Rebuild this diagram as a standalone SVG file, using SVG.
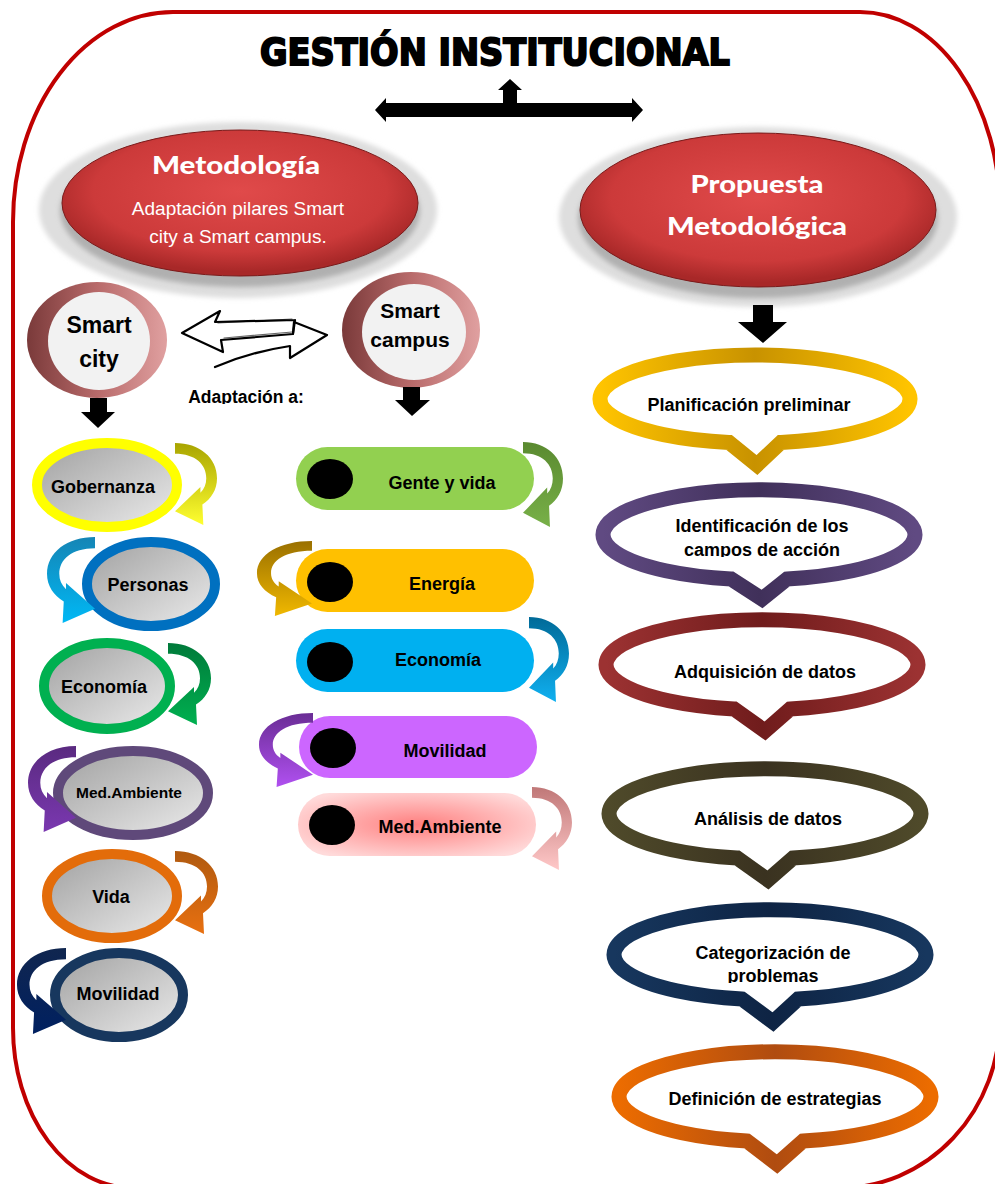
<svg xmlns="http://www.w3.org/2000/svg" xmlns:xlink="http://www.w3.org/1999/xlink" width="995" height="1184" viewBox="0 0 995 1184">
<style>
.lbl{font-family:"Liberation Sans",Arial,sans-serif;font-weight:bold;fill:#000;text-anchor:middle}
.wt{font-family:"Liberation Sans",Arial,sans-serif;fill:#fff;text-anchor:middle;font-size:19px}
.hv{font-family:Lato,"Open Sans",sans-serif;font-weight:900;fill:#fff;text-anchor:middle;font-size:25px}
.blk{fill:#000}
.bub{fill:#fff;stroke-width:15;stroke-linejoin:miter}
.pillDot{fill:#000}
.halo{fill:#dedede}
.shadow{fill:#b0b0b0}
</style>
<defs>
<path id="carrow" d="M0,0 C25,0 43,15 43,36 C43,48 37,57 28,63 L29,84 L0,70 L26,45 L26,51 C30,47 32,42 32,36 C32,22 21,11 0,11 Z"/>
<linearGradient id="g-yel" x1="0" y1="0" x2="0" y2="1"><stop offset="0" stop-color="#a8a400"/><stop offset="1" stop-color="#ffff30"/></linearGradient>
<linearGradient id="g-blu" x1="0" y1="0" x2="0" y2="1"><stop offset="0" stop-color="#1585b5"/><stop offset="1" stop-color="#00b8f5"/></linearGradient>
<linearGradient id="g-grn" x1="0" y1="0" x2="0" y2="1"><stop offset="0" stop-color="#007a3a"/><stop offset="1" stop-color="#00b050"/></linearGradient>
<linearGradient id="g-pur" x1="0" y1="0" x2="0" y2="1"><stop offset="0" stop-color="#5a2a80"/><stop offset="1" stop-color="#7a38b0"/></linearGradient>
<linearGradient id="g-org" x1="0" y1="0" x2="0" y2="1"><stop offset="0" stop-color="#b05a10"/><stop offset="1" stop-color="#e87010"/></linearGradient>
<linearGradient id="g-nav" x1="0" y1="0" x2="0" y2="1"><stop offset="0" stop-color="#10264f"/><stop offset="1" stop-color="#002060"/></linearGradient>
<linearGradient id="g-lgr" x1="0" y1="0" x2="0" y2="1"><stop offset="0" stop-color="#5a8a30"/><stop offset="1" stop-color="#78b048"/></linearGradient>
<linearGradient id="g-gold" x1="0" y1="0" x2="0" y2="1"><stop offset="0" stop-color="#9a7000"/><stop offset="1" stop-color="#f0b800"/></linearGradient>
<linearGradient id="g-cyan" x1="0" y1="0" x2="0" y2="1"><stop offset="0" stop-color="#006a98"/><stop offset="1" stop-color="#10b0f0"/></linearGradient>
<linearGradient id="g-vio" x1="0" y1="0" x2="0" y2="1"><stop offset="0" stop-color="#6a2d95"/><stop offset="1" stop-color="#b050f0"/></linearGradient>
<linearGradient id="g-pnk" x1="0" y1="0" x2="0" y2="1"><stop offset="0" stop-color="#c07878"/><stop offset="1" stop-color="#ffc8c8"/></linearGradient>
<linearGradient id="gray" x1="0" y1="0" x2="1" y2="1"><stop offset="0" stop-color="#a0a0a0"/><stop offset="1" stop-color="#ececec"/></linearGradient>
<linearGradient id="ring" x1="0" y1="0" x2="1" y2="0"><stop offset="0" stop-color="#7a3a3a"/><stop offset="0.5" stop-color="#b86a6a"/><stop offset="1" stop-color="#e0a0a0"/></linearGradient>
<radialGradient id="red" cx="0.5" cy="0.42" r="0.55"><stop offset="0" stop-color="#e04a4a"/><stop offset="0.75" stop-color="#cc3a3a"/><stop offset="1" stop-color="#a82828"/></radialGradient>
<radialGradient id="pinkpill" cx="0.5" cy="0.5" r="0.6"><stop offset="0" stop-color="#ff8080"/><stop offset="1" stop-color="#ffdada"/></radialGradient>
<linearGradient id="c-gold" x1="0" y1="0" x2="1" y2="0"><stop offset="0" stop-color="#ffc400"/><stop offset="0.5" stop-color="#c89200"/><stop offset="1" stop-color="#ffc400"/></linearGradient>
<linearGradient id="c-pur" x1="0" y1="0" x2="1" y2="0"><stop offset="0" stop-color="#604a82"/><stop offset="0.5" stop-color="#40305a"/><stop offset="1" stop-color="#604a82"/></linearGradient>
<linearGradient id="c-red" x1="0" y1="0" x2="1" y2="0"><stop offset="0" stop-color="#9c3232"/><stop offset="0.5" stop-color="#701c1c"/><stop offset="1" stop-color="#9c3232"/></linearGradient>
<linearGradient id="c-olv" x1="0" y1="0" x2="1" y2="0"><stop offset="0" stop-color="#4f4a2a"/><stop offset="0.5" stop-color="#3a3220"/><stop offset="1" stop-color="#4f4a2a"/></linearGradient>
<linearGradient id="c-nav" x1="0" y1="0" x2="1" y2="0"><stop offset="0" stop-color="#17375e"/><stop offset="0.5" stop-color="#0e2444"/><stop offset="1" stop-color="#17375e"/></linearGradient>
<linearGradient id="c-org" x1="0" y1="0" x2="1" y2="0"><stop offset="0" stop-color="#ec6c00"/><stop offset="0.5" stop-color="#b04c10"/><stop offset="1" stop-color="#ec6c00"/></linearGradient>
<filter id="blur" x="-15%" y="-30%" width="130%" height="160%"><feGaussianBlur stdDeviation="2.5"/></filter>
<clipPath id="clipAd"><rect x="150" y="370" width="200" height="34"/></clipPath>
<clipPath id="clipId"><rect x="600" y="535" width="320" height="22"/></clipPath>
<clipPath id="clipCat"><rect x="600" y="962" width="320" height="21"/></clipPath>
</defs>

<g id="frame">
<path d="M173,12 H860 A140 200 0 0 1 1000 212 V1018 A160 170 0 0 1 840 1188 H133 A120 160 0 0 1 13 1028 V222 A160 210 0 0 1 173 12 Z" fill="none" stroke="#c00000" stroke-width="4"/>
</g>

<g id="title">
<text x="495" y="65" font-family="'DejaVu Sans',sans-serif" font-weight="bold" font-size="37" textLength="470" lengthAdjust="spacingAndGlyphs" text-anchor="middle" fill="#000" stroke="#000" stroke-width="2">GESTIÓN INSTITUCIONAL</text>
</g>

<g id="metodologia">
<ellipse class="halo" cx="238" cy="210" rx="199" ry="88" filter="url(#blur)"/>
<ellipse class="shadow" cx="240" cy="211" rx="180" ry="76" filter="url(#blur)"/>
<ellipse cx="240" cy="203" rx="178" ry="73" fill="url(#red)" stroke="#7a1a1a" stroke-width="1"/>
<text class="hv" x="236" y="174" textLength="168" lengthAdjust="spacingAndGlyphs">Metodología</text>
<text class="wt" x="238" y="215">Adaptación pilares Smart</text>
<text class="wt" x="238" y="243">city a Smart campus.</text>
</g>

<g id="propuesta">
<ellipse class="halo" cx="758" cy="217" rx="199" ry="90" filter="url(#blur)"/>
<ellipse class="shadow" cx="758" cy="218" rx="180" ry="80" filter="url(#blur)"/>
<ellipse cx="758" cy="210" rx="178" ry="77" fill="url(#red)" stroke="#7a1a1a" stroke-width="1"/>
<text class="hv" x="757" y="193" textLength="133" lengthAdjust="spacingAndGlyphs">Propuesta</text>
<text class="hv" x="757" y="235" textLength="180" lengthAdjust="spacingAndGlyphs">Metodológica</text>
</g>

<g id="smart-city">
<ellipse cx="97" cy="340" rx="70" ry="58" fill="url(#ring)"/>
<ellipse cx="99" cy="341" rx="51" ry="49" fill="#f2f2f2"/>
<text class="lbl" x="99" y="333" font-size="23">Smart</text>
<text class="lbl" x="99" y="367" font-size="23">city</text>
</g>

<g id="smart-campus">
<ellipse cx="411" cy="330" rx="69" ry="58" fill="url(#ring)"/>
<ellipse cx="414" cy="332" rx="52" ry="48" fill="#f2f2f2"/>
<text class="lbl" x="410" y="318" font-size="21">Smart</text>
<text class="lbl" x="410" y="347" font-size="21">campus</text>
</g>

<g id="adaptacion-label">
<text class="lbl" x="246" y="403" font-size="17.5" clip-path="url(#clipAd)">Adaptación a:</text>
</g>

<g id="connectors">
<path class="blk" d="M375,110 L386,98 L386,103 L503,103 L503,90 L498,90 L510,79 L522,90 L517,90 L517,103 L632,103 L632,98 L643,110 L632,122 L632,117 L386,117 L386,122 Z"/>
<path class="blk" d="M90,398 H107 V412 H115 L98,428 L81,412 H90 Z"/>
<path class="blk" d="M403,387 H420 V400 H430 L412,416 L395,400 H403 Z"/>
<path class="blk" d="M753,305 H773 V322 H787 L763,343 L738,322 H753 Z"/>
<g fill="none" stroke="#000" stroke-width="2.2" stroke-linejoin="round" stroke-linecap="round">
<path d="M295,320 L215,322 L220,311 L182,333 L223,352 L221,340 L293,334 L295,320"/>
<path d="M293,333 L294,322 L327,335 L290,358 L290,346 Q250,352 215,367"/>
<path d="M218,323 L292,319 M224,338 L292,332" stroke-width="1.2" opacity="0.6"/>
</g>
</g>

<g id="gobernanza">
<ellipse cx="107" cy="485" rx="70" ry="42" fill="url(#gray)" stroke="#ffff00" stroke-width="10"/>
<use href="#carrow" fill="url(#g-yel)" transform="translate(175,443) scale(0.977,0.976)"/>
<text class="lbl" x="103" y="493" font-size="18">Gobernanza</text>
</g>
<g id="personas">
<ellipse cx="151" cy="584" rx="64" ry="42" fill="url(#gray)" stroke="#0070c0" stroke-width="10"/>
<use href="#carrow" fill="url(#g-blu)" transform="translate(95,537) scale(-1.116,1.024)"/>
<text class="lbl" x="148" y="591" font-size="18">Personas</text>
</g>
<g id="economia">
<ellipse cx="107" cy="686" rx="63" ry="43" fill="url(#gray)" stroke="#00b050" stroke-width="10"/>
<use href="#carrow" fill="url(#g-grn)" transform="translate(168,643) scale(1,0.976)"/>
<text class="lbl" x="104" y="693" font-size="18">Economía</text>
</g>
<g id="med-ambiente">
<ellipse cx="133" cy="793" rx="75" ry="42" fill="url(#gray)" stroke="#5f497a" stroke-width="10"/>
<use href="#carrow" fill="url(#g-pur)" transform="translate(76,746) scale(-1.116,1.024)"/>
<text class="lbl" x="129" y="798" font-size="15.5">Med.Ambiente</text>
</g>
<g id="vida">
<ellipse cx="112" cy="896" rx="65" ry="42" fill="url(#gray)" stroke="#e36c0a" stroke-width="10"/>
<use href="#carrow" fill="url(#g-org)" transform="translate(175,851) scale(1,0.988)"/>
<text class="lbl" x="111" y="903" font-size="18">Vida</text>
</g>
<g id="movilidad">
<ellipse cx="119" cy="995" rx="64" ry="42" fill="url(#gray)" stroke="#17375e" stroke-width="10"/>
<use href="#carrow" fill="url(#g-nav)" transform="translate(66,948) scale(-1.14,1.024)"/>
<text class="lbl" x="118" y="1000" font-size="18">Movilidad</text>
</g>

<g id="gente-y-vida">
<rect x="296" y="447" width="238" height="63" rx="31.5" fill="#92d050"/>
<ellipse class="pillDot" cx="330" cy="479" rx="23" ry="20"/>
<use href="#carrow" fill="url(#g-lgr)" transform="translate(523,442) scale(0.93,1.012)"/>
<text class="lbl" x="442" y="489" font-size="18">Gente y vida</text>
</g>
<g id="energia">
<rect x="296" y="549" width="238" height="63" rx="31.5" fill="#ffc000"/>
<ellipse class="pillDot" cx="330" cy="582" rx="23" ry="20"/>
<use href="#carrow" fill="url(#g-gold)" transform="translate(312,541) scale(-1.28,0.893)"/>
<text class="lbl" x="442" y="590" font-size="18">Energía</text>
</g>
<g id="economia-campus">
<rect x="296" y="629" width="238" height="63" rx="31.5" fill="#00b0f0"/>
<ellipse class="pillDot" cx="330" cy="662" rx="23" ry="20"/>
<use href="#carrow" fill="url(#g-cyan)" transform="translate(529,617) scale(0.93,1.012)"/>
<text class="lbl" x="438" y="666" font-size="18">Economía</text>
</g>
<g id="movilidad-campus">
<rect x="299" y="716" width="238" height="62" rx="31" fill="#cc66ff"/>
<ellipse class="pillDot" cx="333" cy="748" rx="23" ry="20"/>
<use href="#carrow" fill="url(#g-vio)" transform="translate(313,713) scale(-1.256,0.881)"/>
<text class="lbl" x="445" y="757" font-size="18">Movilidad</text>
</g>
<g id="med-ambiente-campus">
<rect x="298" y="793" width="238" height="63" rx="31.5" fill="url(#pinkpill)"/>
<ellipse class="pillDot" cx="332" cy="825" rx="23" ry="20"/>
<use href="#carrow" fill="url(#g-pnk)" transform="translate(532,787) scale(0.93,0.988)"/>
<text class="lbl" x="440" y="833" font-size="18">Med.Ambiente</text>
</g>

<g id="planificacion">
<path class="bub" stroke="url(#c-gold)" d="M729,442.4 A155 44 0 1 1 781,442.4 L757,465 Z"/>
<text class="lbl" x="749" y="411" font-size="18">Planificación preliminar</text>
</g>
<g id="identificacion">
<path class="bub" stroke="url(#c-pur)" d="M731,579 A156 45 0 1 1 787,579 L762,599 Z"/>
<text class="lbl" x="762" y="532" font-size="18">Identificación de los</text>
<text class="lbl" x="762" y="556" font-size="18" clip-path="url(#clipId)">campos de acción</text>
</g>
<g id="adquisicion">
<path class="bub" stroke="url(#c-red)" d="M734,709 A156 45 0 1 1 790,709 L765,731 Z"/>
<text class="lbl" x="765" y="678" font-size="18">Adquisición de datos</text>
</g>
<g id="analisis">
<path class="bub" stroke="url(#c-olv)" d="M737,858 A156 45 0 1 1 793,858 L768,880 Z"/>
<text class="lbl" x="768" y="825" font-size="18">Análisis de datos</text>
</g>
<g id="categorizacion">
<path class="bub" stroke="url(#c-nav)" d="M742,999 A156 45 0 1 1 798,999 L773,1022 Z"/>
<text class="lbl" x="773" y="959" font-size="18">Categorización de</text>
<text class="lbl" x="773" y="982" font-size="18" clip-path="url(#clipCat)">problemas</text>
</g>
<g id="definicion">
<path class="bub" stroke="url(#c-org)" d="M747,1141 A156 45 0 1 1 803,1141 L777,1164 Z"/>
<text class="lbl" x="775" y="1105" font-size="18">Definición de estrategias</text>
</g>
</svg>
